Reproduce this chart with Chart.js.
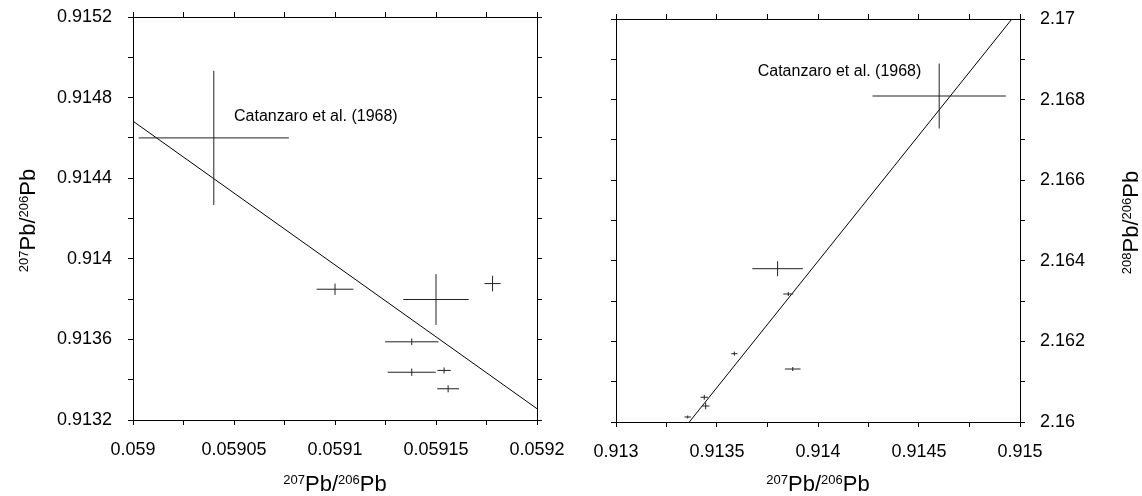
<!DOCTYPE html>
<html>
<head>
<meta charset="utf-8">
<script src="https://cdn.jsdelivr.net/npm/chart.js@4/dist/chart.umd.min.js"></script>
<style>
  body { margin: 0; background: #fff; }
  .box { position: absolute; top: 0; width: 571px; height: 496px; }
</style>
</head>
<body>
<div class="box" style="left:0"><canvas id="left" width="571" height="496"></canvas></div>
<div class="box" style="left:571px"><canvas id="right" width="571" height="496"></canvas></div>
<script>
// left panel: 207Pb/206Pb vs 207Pb/206Pb
const leftX = [0.05904, 0.0591, 0.05915, 0.059178, 0.059138, 0.059138, 0.059154, 0.059156]
const leftXErr = [0.0000372, 0.0000091, 0.0000162, 0.000004, 0.0000132, 0.0000119, 0.0000033, 0.0000054]
const leftY = [0.9146, 0.913849, 0.913798, 0.913877, 0.913588, 0.913437, 0.913446, 0.913355]
const leftYErr = [0.000333, 0.0000283, 0.000126, 0.0000387, 0.0000164, 0.0000184, 0.0000149, 0.0000174]
const leftFitX = [0.059, 0.0592]
const leftFitY = [0.914683, 0.913256]

// right panel: 208Pb/206Pb vs 207Pb/206Pb
const rightX = [0.9146, 0.9138, 0.913853, 0.913586, 0.913875, 0.913437, 0.913444, 0.913355]
const rightXErr = [0.00033, 0.000125, 0.0000248, 0.000015, 0.0000388, 0.000018, 0.000019, 0.000016]
const rightY = [2.168089, 2.163804, 2.163176, 2.161695, 2.161315, 2.160613, 2.160397, 2.160124]
const rightYErr = [0.000806, 0.000186, 0.00005, 0.00005, 0.00005, 0.000062, 0.000082, 0.000037]
const rightFitX = [0.913363, 0.91496]
const rightFitY = [2.16, 2.17]

// ticks
const leftXTicks = [0.059, 0.059025, 0.05905, 0.059075, 0.0591, 0.059125, 0.05915, 0.059175, 0.0592]
const leftXLabels = ['0.059', '', '0.05905', '', '0.0591', '', '0.05915', '', '0.0592']
const leftYTicks = [0.9132, 0.9134, 0.9136, 0.9138, 0.914, 0.9142, 0.9144, 0.9146, 0.9148, 0.915, 0.9152]
const leftYLabels = ['0.9132', '', '0.9136', '', '0.914', '', '0.9144', '', '0.9148', '', '0.9152']
const rightXTicks = [0.913, 0.91325, 0.9135, 0.91375, 0.914, 0.91425, 0.9145, 0.91475, 0.915]
const rightXLabels = ['0.913', '', '0.9135', '', '0.914', '', '0.9145', '', '0.915']
const rightYTicks = [2.16, 2.161, 2.162, 2.163, 2.164, 2.165, 2.166, 2.167, 2.168, 2.169, 2.17]
const rightYLabels = ['2.16', '', '2.162', '', '2.164', '', '2.166', '', '2.168', '', '2.17']

const noteText = 'Catanzaro et al. (1968)'
const xTitle = [['207', true], ['Pb/', false], ['206', true], ['Pb', false]]
const leftYTitle = [['207', true], ['Pb/', false], ['206', true], ['Pb', false]]
const rightYTitle = [['208', true], ['Pb/', false], ['206', true], ['Pb', false]]

const FONT = "'Liberation Sans', Arial, sans-serif"

// each error bar = horizontal piece, gap, vertical piece, gap
function errorBars(xs, ys, xe, ye) {
    const pts = []
    xs.forEach((x, i) => {
        pts.push({ x: x - xe[i], y: ys[i] }, { x: x + xe[i], y: ys[i] }, { x: x, y: null })
        pts.push({ x: x, y: ys[i] - ye[i] }, { x: x, y: ys[i] + ye[i] }, { x: x, y: null })
    })
    return pts
}

function axis(position, min, max, tickVals, labels, size, padding) {
    const showLabels = labels !== null
    return {
        type: 'linear',
        position: position,
        min: min,
        max: max,
        afterBuildTicks: s => { s.ticks = tickVals.map(v => ({ value: v })) },
        afterFit: s => {
            if (position === 'top' || position === 'bottom') s.height = size
            else s.width = size
            // labels may overflow the frame, like the original
            s.paddingTop = s.paddingBottom = s.paddingLeft = s.paddingRight = 0
        },
        ticks: {
            display: showLabels,
            autoSkip: false,
            maxRotation: 0,
            padding: padding,
            color: '#000',
            font: { family: FONT, size: 18 },
            callback: (v, i) => showLabels ? labels[i] : ''
        },
        grid: { drawOnChartArea: false, tickLength: 5, color: '#000', lineWidth: 1 },
        border: { color: '#000', width: 1 }
    }
}

function drawRich(ctx, parts, cx, cy, rotated) {
    const big = '22px ' + FONT
    const small = '13px ' + FONT
    let w = 0
    parts.forEach(p => { ctx.font = p[1] ? small : big; w += ctx.measureText(p[0]).width })
    ctx.save()
    ctx.translate(cx, cy)
    if (rotated) ctx.rotate(-Math.PI / 2)
    ctx.fillStyle = '#000'
    ctx.textBaseline = 'alphabetic'
    ctx.textAlign = 'left'
    let x = -w / 2
    parts.forEach(p => {
        ctx.font = p[1] ? small : big
        ctx.fillText(p[0], x, p[1] ? -7 : 0)
        x += ctx.measureText(p[0]).width
    })
    ctx.restore()
}

const textPlugin = {
    id: 'texts',
    afterDraw(chart, args, opts) {
        const ctx = chart.ctx
        const xs = chart.scales.x
        const ys = chart.scales.y
        ctx.save()
        ctx.font = '16px ' + FONT
        ctx.fillStyle = '#000'
        ctx.textBaseline = 'middle'
        ctx.fillText(noteText, xs.getPixelForValue(opts.noteAt[0]), ys.getPixelForValue(opts.noteAt[1]))
        ctx.restore()
        const area = chart.chartArea
        drawRich(ctx, xTitle, (area.left + area.right) / 2, 491, false)
        drawRich(ctx, opts.yTitle, opts.yTitleX, (area.top + area.bottom) / 2 + 2, true)
    }
}

function makeChart(id, cfg) {
    return new Chart(document.getElementById(id), {
        type: 'scatter',
        data: {
            datasets: [
                {
                    data: errorBars(cfg.x, cfg.y, cfg.xErr, cfg.yErr),
                    showLine: true,
                    spanGaps: false,
                    borderColor: '#222',
                    borderWidth: 1,
                    pointRadius: 0
                },
                {
                    data: cfg.fitX.map((v, i) => ({ x: v, y: cfg.fitY[i] })),
                    showLine: true,
                    borderColor: '#000',
                    borderWidth: 1,
                    pointRadius: 0
                }
            ]
        },
        options: {
            responsive: false,
            animation: false,
            events: [],
            layout: { padding: cfg.padding },
            plugins: {
                legend: { display: false },
                tooltip: { enabled: false },
                texts: { noteAt: cfg.noteAt, yTitle: cfg.yTitle, yTitleX: cfg.yTitleX }
            },
            scales: cfg.scales
        },
        plugins: [textPlugin]
    })
}

makeChart('left', {
    x: leftX, y: leftY, xErr: leftXErr, yErr: leftYErr,
    fitX: leftFitX, fitY: leftFitY,
    noteAt: [0.05905, 0.914706],
    yTitle: leftYTitle, yTitleX: 35,
    padding: { left: 33, right: 29, top: 12, bottom: 26 },
    scales: {
        x: axis('bottom', 0.059, 0.0592, leftXTicks, leftXLabels, 50, 14),
        x2: axis('top', 0.059, 0.0592, leftXTicks, null, 5, 0),
        y: axis('left', 0.9132, 0.9152, leftYTicks, leftYLabels, 100, 16),
        y2: axis('right', 0.9132, 0.9152, leftYTicks, null, 5, 0)
    }
})

makeChart('right', {
    x: rightX, y: rightY, xErr: rightXErr, yErr: rightYErr,
    fitX: rightFitX, fitY: rightFitY,
    noteAt: [0.9137015, 2.168685],
    yTitle: rightYTitle, yTitleX: 567,
    padding: { left: 40, right: 22, top: 14, bottom: 24 },
    scales: {
        x: axis('bottom', 0.913, 0.915, rightXTicks, rightXLabels, 50, 14),
        x2: axis('top', 0.913, 0.915, rightXTicks, null, 5, 0),
        y: axis('right', 2.16, 2.17, rightYTicks, rightYLabels, 100, 15),
        y2: axis('left', 2.16, 2.17, rightYTicks, null, 5, 0)
    }
})
</script>
</body>
</html>
